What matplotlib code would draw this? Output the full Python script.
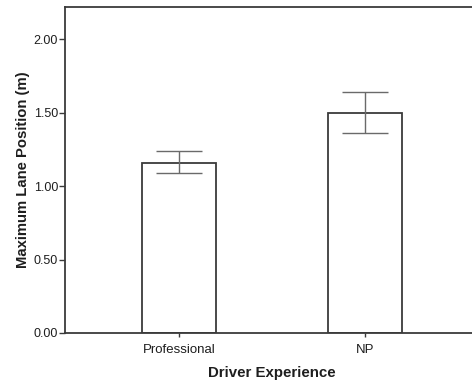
import matplotlib
matplotlib.use("Agg")
import matplotlib.pyplot as plt
from matplotlib.ticker import FormatStrFormatter

# Mean maximum lane position per group, with error bar limits
groups = ["Professional", "NP"]
means = [1.16, 1.50]
err_low = [1.09, 1.36]
err_high = [1.24, 1.64]

plt.rcParams["font.family"] = ["Liberation Sans", "DejaVu Sans"]
line_col = "#3a3a3a"
text_col = "#1e1e1e"

fig = plt.figure(figsize=(4.72, 3.88), dpi=100)
ax = fig.add_axes([0.1377, 0.1418, 0.877, 0.840])

x = list(range(len(groups)))
ax.bar(x, means, width=0.40, color="white", edgecolor=line_col, linewidth=1.3, zorder=2)
yerr = [[m - lo for m, lo in zip(means, err_low)],
        [hi - m for m, hi in zip(means, err_high)]]
ax.errorbar(x, means, yerr=yerr, fmt="none", ecolor="#6a6a6a", elinewidth=1.0,
            capsize=16.5, capthick=1.0, zorder=3)

ax.set_xlim(-0.613, 1.613)
ax.set_ylim(0, 2.218)
ax.set_xticks(x)
ax.set_xticklabels(groups, fontsize=9.5, color=text_col)
ax.set_yticks([0, 0.5, 1.0, 1.5, 2.0])
ax.yaxis.set_major_formatter(FormatStrFormatter("%.2f"))
ax.tick_params(axis="y", labelsize=9, labelcolor=text_col, length=4, width=1,
               color=line_col, pad=1)
ax.tick_params(axis="x", length=3, width=1, color=line_col, pad=5)

for side in ["left", "top", "bottom"]:
    ax.spines[side].set_color(line_col)
    ax.spines[side].set_linewidth(1.3)
ax.spines["right"].set_visible(False)

ax.set_xlabel("Driver Experience", fontsize=10.8, fontweight="bold", color=text_col,
              labelpad=7)
ax.set_ylabel("Maximum Lane Position (m)", fontsize=10.7, fontweight="bold",
              color=text_col, labelpad=3)

fig.savefig("out.png", dpi=100)
